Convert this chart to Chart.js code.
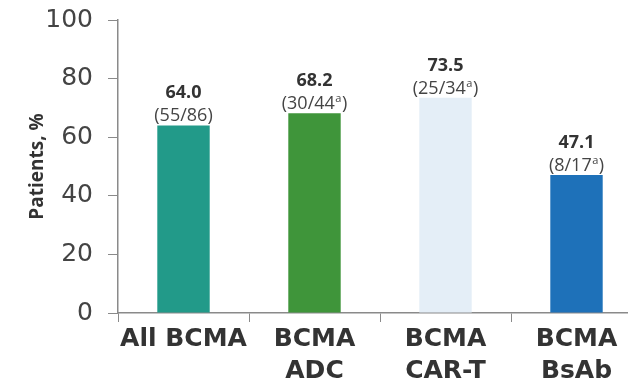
<!DOCTYPE html>
<html>
<head>
<meta charset="utf-8">
<script src="https://cdn.jsdelivr.net/npm/chart.js@4.4.1/dist/chart.umd.min.js"></script>
<style>
  html, body { margin: 0; padding: 0; background: #ffffff; overflow: hidden; }
  #wrap { width: 642px; height: 380px; }
</style>
</head>
<body>
<div id="wrap"><canvas id="chart" width="642" height="380"></canvas></div>
<script>
// Response rate by BCMA-targeted therapy class
const categories = [["All BCMA"], ["BCMA", "ADC"], ["BCMA", "CAR-T"], ["BCMA", "BsAb"]];
const rates = [64.0, 68.2, 73.5, 47.1];
const responders = [55, 30, 25, 8];
const totals = [86, 44, 34, 17];
const footnotes = ["", "a", "a", "a"];
const barColors = ["#229a89", "#3f953a", "#e4eef7", "#1e71b9"];
const yTicks = [0, 20, 40, 60, 80, 100];

const axisGray = "#8a8a8a";

// Two-line label above each bar: bold rate, then (n/N) with optional superscript
const barLabels = {
  id: "barLabels",
  afterDatasetsDraw(chart) {
    const ctx = chart.ctx;
    const meta = chart.getDatasetMeta(0);
    meta.data.forEach((bar, i) => {
      const x = bar.x;
      const top = bar.y;
      ctx.save();
      ctx.textBaseline = "alphabetic";
      ctx.textAlign = "center";
      ctx.fillStyle = "#333333";
      ctx.font = "bold 18px 'Open Sans'";
      ctx.fillText(rates[i].toFixed(1), x, top - 27);

      const mainFont = "18px 'Open Sans'";
      const supFont = "11px 'Open Sans'";
      const left = "(" + responders[i] + "/" + totals[i];
      const sup = footnotes[i];
      const right = ")";
      ctx.font = mainFont;
      const wLeft = ctx.measureText(left).width;
      const wRight = ctx.measureText(right).width;
      ctx.font = supFont;
      const wSup = sup ? ctx.measureText(sup).width + 1 : 0;
      const total = wLeft + wSup + wRight;
      let cx = x - total / 2;
      const base = top - 4;
      ctx.textAlign = "left";
      ctx.fillStyle = "#444444";
      ctx.font = mainFont;
      ctx.fillText(left, cx, base);
      cx += wLeft;
      if (sup) {
        ctx.font = supFont;
        ctx.fillText(sup, cx + 0.5, base - 7);
        cx += wSup;
      }
      ctx.font = mainFont;
      ctx.fillText(right, cx, base);
      ctx.restore();
    });
  }
};

new Chart(document.getElementById("chart"), {
  type: "bar",
  data: {
    labels: categories,
    datasets: [{
      data: rates,
      backgroundColor: barColors,
      borderWidth: 0,
      barPercentage: 0.4,
      categoryPercentage: 1.0
    }]
  },
  options: {
    responsive: false,
    animation: false,
    devicePixelRatio: 1,
    layout: { padding: { top: 20, right: 0, bottom: 0, left: 0 } },
    plugins: {
      legend: { display: false },
      tooltip: { enabled: false }
    },
    scales: {
      x: {
        grid: {
          display: true,
          drawOnChartArea: false,
          drawTicks: true,
          tickLength: 9,
          color: axisGray,
          offset: true
        },
        border: { display: true, color: axisGray, width: 1.5 },
        ticks: {
          color: "#333333",
          font: { family: "'DejaVu Sans'", weight: "bold", size: 25, lineHeight: 1.3 },
          padding: 1,
          maxRotation: 0,
          autoSkip: false
        },
        afterFit(scale) {
          scale.height = 67;
          scale.paddingLeft = 0;
          scale.paddingRight = 0;
        }
      },
      y: {
        min: 0,
        max: 100,
        afterBuildTicks(scale) { scale.ticks = yTicks.map(v => ({ value: v })); },
        grid: {
          display: true,
          drawOnChartArea: false,
          drawTicks: true,
          tickLength: 10,
          color: axisGray
        },
        border: { display: true, color: axisGray, width: 1.5 },
        ticks: {
          color: "#444444",
          font: { family: "'DejaVu Sans'", size: 25 },
          padding: 15
        },
        title: {
          display: true,
          text: "Patients, %",
          color: "#333333",
          font: { family: "'Open Sans'", weight: "bold", size: 19 },
          padding: { top: 26, bottom: 0 }
        },
        afterFit(scale) {
          scale.width = 118;
          scale.paddingTop = 0;
          scale.paddingBottom = 0;
        }
      }
    }
  },
  plugins: [barLabels]
});
</script>
</body>
</html>
